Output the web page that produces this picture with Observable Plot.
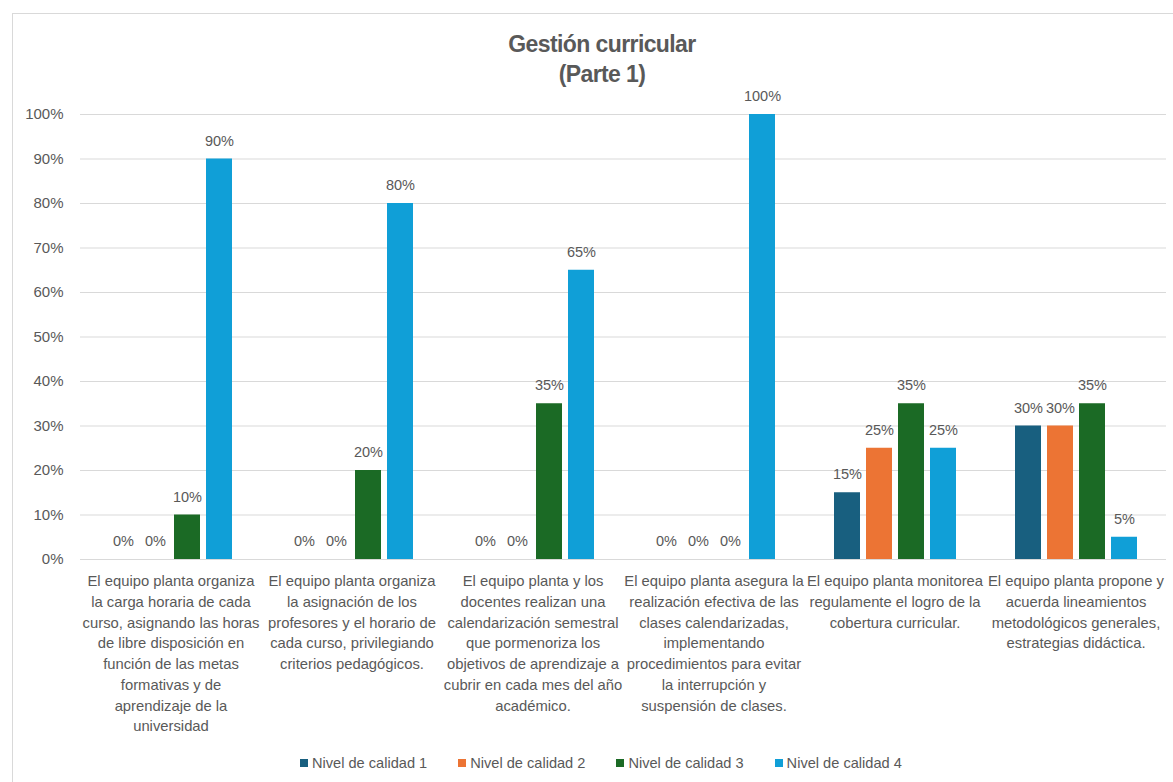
<!DOCTYPE html>
<html>
<head>
<meta charset="utf-8">
<script src="https://cdn.jsdelivr.net/npm/d3@7"></script>
<script src="https://cdn.jsdelivr.net/npm/@observablehq/plot@0.6"></script>
<style>
  html, body { margin: 0; padding: 0; background: #fff; }
  #wrap { position: relative; width: 1173px; height: 782px; overflow: hidden; font-family: "Liberation Sans", Arial, sans-serif; color: #595959; }
  #frame { position: absolute; left: 12px; top: 13px; width: 1200px; height: 800px; border-left: 1px solid #d9d9d9; border-top: 1px solid #d9d9d9; }
  #title { position: absolute; left: 402px; width: 400px; top: 29px; text-align: center; font-weight: bold; font-size: 23px; line-height: 30px; letter-spacing: -0.6px; color: #595959; }
  #chart { position: absolute; left: 0; top: 0; }
  #legend { position: absolute; left: 300px; top: 754px; display: flex; gap: 31px; font-size: 14.6px; line-height: 18px; color: #595959; }
  #legend .item { display: flex; align-items: center; gap: 4px; }
  #legend .sw { width: 8px; height: 8px; display: inline-block; }
</style>
</head>
<body>
<div id="wrap">
  <div id="frame"></div>
  <div id="chart"></div>
  <div id="title">Gestión curricular<br>(Parte 1)</div>
  <div id="legend"></div>
</div>
<script>
const categories = [
  "El equipo planta organiza\nla carga horaria de cada\ncurso, asignando las horas\nde libre disposición en\nfunción de las metas\nformativas y de\naprendizaje de la\nuniversidad",
  "El equipo planta organiza\nla asignación de los\nprofesores y el horario de\ncada curso, privilegiando\ncriterios pedagógicos.",
  "El equipo planta y los\ndocentes realizan una\ncalendarización semestral\nque pormenoriza los\nobjetivos de aprendizaje a\ncubrir en cada mes del año\nacadémico.",
  "El equipo planta asegura la\nrealización efectiva de las\nclases calendarizadas,\nimplementando\nprocedimientos para evitar\nla interrupción y\nsuspensión de clases.",
  "El equipo planta monitorea\nregulamente el logro de la\ncobertura curricular.",
  "El equipo planta propone y\nacuerda lineamientos\nmetodológicos generales,\nestrategias didáctica."
];
const series = ["Nivel de calidad 1", "Nivel de calidad 2", "Nivel de calidad 3", "Nivel de calidad 4"];
const colors = ["#185F7F", "#EC7434", "#1B6A25", "#109FD7"];
const nivel1 = [0, 0, 0, 0, 15, 30];
const nivel2 = [0, 0, 0, 0, 25, 30];
const nivel3 = [10, 20, 35, 0, 35, 35];
const nivel4 = [90, 80, 65, 100, 25, 5];
const yTicks = [0, 10, 20, 30, 40, 50, 60, 70, 80, 90, 100];

const seriesValues = [nivel1, nivel2, nivel3, nivel4];
const data = [];
series.forEach((s, i) => categories.forEach((c, j) => data.push({cat: c, serie: s, value: seriesValues[i][j]})));

const chart = Plot.plot({
  width: 1173,
  height: 745,
  marginTop: 114,
  marginBottom: 186,
  marginLeft: 78,
  marginRight: 5,
  style: {fontFamily: "'Liberation Sans', Arial, sans-serif", fontSize: "15px", color: "#595959", background: "transparent", overflow: "visible"},
  fx: {domain: categories, padding: 0, label: null},
  x: {domain: series, paddingInner: 0.2, paddingOuter: 0.9, axis: null},
  y: {domain: [0, 100], label: null},
  color: {domain: series, range: colors},
  marks: [
    Plot.gridY(yTicks, {stroke: "#d9d9d9", strokeOpacity: 1, strokeWidth: 1}),
    Plot.axisY(yTicks, {tickFormat: d => d + "%", tickSize: 0, tickPadding: 17, fontSize: 15, fill: "#595959", label: null}),
    Plot.axisFx({anchor: "bottom", tickSize: 0, tickPadding: 12, lineHeight: 1.4, fontSize: 14.8, fill: "#595959", label: null}),
    Plot.barY(data, {fx: "cat", x: "serie", y: "value", fill: "serie"}),
    Plot.text(data, {fx: "cat", x: "serie", y: "value", text: d => d.value + "%", dy: -18, fill: "#595959", fontSize: 14.5})
  ]
});
document.getElementById("chart").appendChild(chart);

const legend = document.getElementById("legend");
series.forEach((s, i) => {
  const item = document.createElement("div");
  item.className = "item";
  const sw = document.createElement("span");
  sw.className = "sw";
  sw.style.background = colors[i];
  const t = document.createElement("span");
  t.textContent = s;
  item.appendChild(sw);
  item.appendChild(t);
  legend.appendChild(item);
});
</script>
</body>
</html>
